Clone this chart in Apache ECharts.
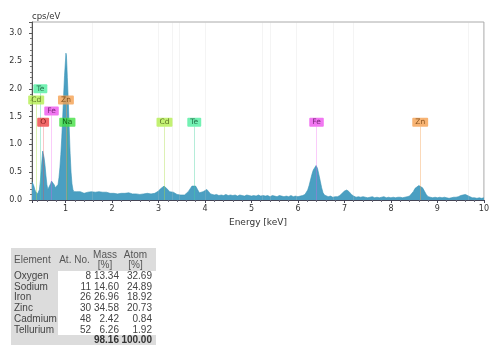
<!DOCTYPE html>
<html>
<head>
<meta charset="utf-8">
<script src="https://cdn.jsdelivr.net/npm/echarts@6/dist/echarts.min.js"></script>
<style>
  html, body { margin: 0; padding: 0; background: #fff; }
  #wrap { position: relative; width: 492px; height: 345px; overflow: hidden; }
  #chart { position: absolute; left: 0; top: 0; width: 492px; height: 345px; }
  #tbl {
    position: absolute; left: 11px; top: 248px;
    border-collapse: collapse;
    font-family: "Liberation Sans", Arial, sans-serif;
    font-size: 10px; color: #444;
  }
  #tbl td { padding: 0; height: 10.7px; line-height: 10.7px; white-space: nowrap; }
  #tbl .hd td { background: #dcdcdc; text-align: center; line-height: 9.5px; height: 23px; color: #555; }
  #tbl td.el { background: #dcdcdc; text-align: left; padding-left: 3px; width: 44px; }
  #tbl td.n { text-align: right; }
  #tbl tr.tot td { background: #dcdcdc; font-weight: bold; color: #333; }
</style>
</head>
<body>
<div id="wrap">
  <div id="chart"></div>
  <table id="tbl"></table>
</div>
<script>
// EDS spectrum, [energy keV, cps/eV]
let spectrum = [
    [0.28, 0.33], [0.30, 0.29], [0.32, 0.25], [0.34, 0.19], [0.36, 0.15], [0.38, 0.12],
    [0.40, 0.11], [0.42, 0.13], [0.44, 0.19], [0.46, 0.34], [0.48, 0.56], [0.50, 0.78],
    [0.51, 0.88], [0.52, 0.84], [0.54, 0.76], [0.56, 0.62], [0.58, 0.44], [0.60, 0.28],
    [0.62, 0.19], [0.64, 0.17], [0.66, 0.21], [0.68, 0.29], [0.70, 0.34], [0.72, 0.36],
    [0.74, 0.33], [0.76, 0.27], [0.78, 0.22], [0.80, 0.20], [0.82, 0.21], [0.84, 0.28],
    [0.86, 0.40], [0.88, 0.58], [0.90, 0.82], [0.92, 1.12], [0.94, 1.48], [0.96, 1.88],
    [0.98, 2.24], [1.00, 2.50], [1.01, 2.64], [1.02, 2.60], [1.03, 2.42], [1.04, 2.20],
    [1.06, 1.80], [1.08, 1.30], [1.10, 0.84], [1.12, 0.50], [1.14, 0.29], [1.16, 0.19],
    [1.18, 0.15], [1.20, 0.13],
    [1.24, 0.15], [1.28, 0.13], [1.32, 0.15], [1.36, 0.14], [1.40, 0.12], [1.44, 0.15],
    [1.48, 0.14], [1.52, 0.13], [1.56, 0.15], [1.60, 0.13], [1.64, 0.14], [1.68, 0.12],
    [1.72, 0.15], [1.76, 0.13], [1.80, 0.14], [1.84, 0.12], [1.88, 0.14], [1.92, 0.13],
    [1.96, 0.12], [2.00, 0.14], [2.04, 0.12], [2.08, 0.13], [2.12, 0.11], [2.16, 0.13],
    [2.20, 0.12], [2.24, 0.14], [2.28, 0.12], [2.32, 0.11], [2.36, 0.13], [2.40, 0.12],
    [2.44, 0.11], [2.48, 0.13], [2.52, 0.11], [2.56, 0.12], [2.60, 0.10], [2.64, 0.12],
    [2.68, 0.11], [2.72, 0.10], [2.76, 0.12], [2.80, 0.10], [2.84, 0.11], [2.88, 0.10],
    [2.92, 0.12], [2.96, 0.14],
    [3.00, 0.16], [3.04, 0.20], [3.08, 0.23], [3.12, 0.25], [3.16, 0.24], [3.20, 0.19],
    [3.24, 0.15], [3.28, 0.13], [3.32, 0.14], [3.36, 0.11], [3.40, 0.10], [3.44, 0.11],
    [3.48, 0.09], [3.52, 0.10], [3.56, 0.09], [3.60, 0.11], [3.64, 0.15], [3.68, 0.20],
    [3.72, 0.25], [3.76, 0.27], [3.80, 0.25], [3.84, 0.19], [3.88, 0.13], [3.92, 0.12],
    [3.96, 0.15], [4.00, 0.18], [4.04, 0.19], [4.08, 0.15], [4.12, 0.11], [4.16, 0.10],
    [4.20, 0.09], [4.25, 0.10], [4.30, 0.08], [4.35, 0.09], [4.40, 0.08], [4.45, 0.10],
    [4.50, 0.08], [4.55, 0.09], [4.60, 0.08], [4.65, 0.09], [4.70, 0.07], [4.75, 0.09],
    [4.80, 0.08], [4.85, 0.07], [4.90, 0.09], [4.95, 0.08], [5.00, 0.07], [5.05, 0.08],
    [5.10, 0.07], [5.15, 0.09], [5.20, 0.07], [5.25, 0.08], [5.30, 0.07], [5.35, 0.08],
    [5.40, 0.06], [5.45, 0.08], [5.50, 0.07], [5.55, 0.06], [5.60, 0.08], [5.65, 0.07],
    [5.70, 0.06], [5.75, 0.07], [5.80, 0.06], [5.85, 0.08], [5.90, 0.06], [5.95, 0.07],
    [6.00, 0.06], [6.05, 0.07], [6.10, 0.08],
    [6.15, 0.10], [6.18, 0.13], [6.21, 0.18], [6.24, 0.26], [6.27, 0.36], [6.30, 0.46],
    [6.33, 0.54], [6.36, 0.58], [6.39, 0.62], [6.42, 0.57], [6.45, 0.46], [6.48, 0.34],
    [6.51, 0.22], [6.54, 0.13], [6.57, 0.09], [6.60, 0.07],
    [6.65, 0.06], [6.70, 0.07], [6.75, 0.05], [6.80, 0.06], [6.85, 0.06], [6.90, 0.08],
    [6.95, 0.12], [7.00, 0.16], [7.05, 0.18], [7.10, 0.15], [7.15, 0.10], [7.20, 0.07],
    [7.25, 0.05], [7.30, 0.06], [7.35, 0.05], [7.40, 0.06], [7.45, 0.05], [7.50, 0.04],
    [7.55, 0.05], [7.60, 0.06], [7.65, 0.04], [7.70, 0.05], [7.75, 0.04], [7.80, 0.05],
    [7.85, 0.06], [7.90, 0.04], [7.95, 0.05], [8.00, 0.04], [8.05, 0.05], [8.10, 0.04],
    [8.15, 0.05], [8.20, 0.05], [8.25, 0.04], [8.30, 0.05], [8.35, 0.06], [8.40, 0.07],
    [8.44, 0.10], [8.48, 0.15], [8.52, 0.21], [8.56, 0.24], [8.60, 0.26], [8.64, 0.25],
    [8.68, 0.22], [8.72, 0.16], [8.76, 0.10], [8.80, 0.06],
    [8.85, 0.05], [8.90, 0.04], [8.95, 0.05], [9.00, 0.04], [9.05, 0.05], [9.10, 0.04],
    [9.15, 0.05], [9.20, 0.04], [9.25, 0.03], [9.30, 0.04], [9.35, 0.05], [9.40, 0.05],
    [9.45, 0.06], [9.50, 0.08], [9.55, 0.09], [9.60, 0.10], [9.65, 0.08], [9.70, 0.06],
    [9.75, 0.04], [9.80, 0.04], [9.85, 0.03], [9.90, 0.04], [9.95, 0.03], [10.00, 0.04]
]

// element line labels
let lineNames = ['O', 'Na', 'Fe', 'Zn', 'Cd', 'Te', 'Cd', 'Te', 'Fe', 'Zn']
let lineEnergy = [0.52, 1.04, 0.70, 1.01, 0.37, 0.46, 3.13, 3.77, 6.40, 8.63]
let labelLevel = [1.40, 1.40, 1.60, 1.80, 1.80, 2.00, 1.40, 1.40, 1.40, 1.40]
let faintLines = [1.58, 2.99, 3.30, 3.45, 4.01, 5.24, 5.40, 5.97, 6.76, 7.18, 9.66]

// quantification table
let elements = ['Oxygen', 'Sodium', 'Iron', 'Zinc', 'Cadmium', 'Tellurium']
let atNo = [8, 11, 26, 30, 48, 52]
let massPct = ['13.34', '14.60', '26.96', '34.58', '2.42', '6.26']
let atomPct = ['32.69', '24.89', '18.92', '20.73', '0.84', '1.92']
let totals = ['98.16', '100.00']

let colors = {
    O: { bg: '#ee4444', fg: '#5a0000', line: 'rgba(238,68,68,0.3)' },
    Na: { bg: '#44e044', fg: '#064a06', line: 'rgba(68,200,68,0.3)' },
    Fe: { bg: '#ee55ee', fg: '#5a105a', line: 'rgba(238,85,238,0.3)' },
    Zn: { bg: '#f5a050', fg: '#6a3a08', line: 'rgba(245,160,80,0.4)' },
    Cd: { bg: '#b4ee50', fg: '#405010', line: 'rgba(170,220,70,0.4)' },
    Te: { bg: '#50eea0', fg: '#105030', line: 'rgba(70,210,160,0.4)' }
}

let labelData = lineNames.map((n, i) => ({
    value: [lineEnergy[i], labelLevel[i]],
    label: { backgroundColor: colors[n].bg, color: colors[n].fg }
}))
let lineMarks = lineNames.map((n, i) => [
    { coord: [lineEnergy[i], 0], lineStyle: { color: colors[n].line } },
    { coord: [lineEnergy[i], labelLevel[i] - 0.08] }
])
let faintMarks = faintLines.map(x => ({ xAxis: x }))

let mychart = echarts.init(document.getElementById('chart'))
let options = {
    animation: false,
    textStyle: { fontFamily: 'DejaVu Sans' },
    grid: { left: 32, right: 2, top: 22, bottom: 145, show: true, borderColor: '#aaa', borderWidth: 1 },
    xAxis: {
        type: 'value',
        min: 0.28,
        max: 10,
        splitNumber: 10,
        name: 'Energy [keV]',
        nameLocation: 'middle',
        nameGap: 12,
        nameTextStyle: { fontSize: 9, color: '#333' },
        axisLine: { lineStyle: { color: '#445', width: 1 } },
        axisTick: { length: 3, lineStyle: { color: '#445' } },
        minorTick: { show: true, splitNumber: 5, length: 2, lineStyle: { color: '#667' } },
        axisLabel: { fontSize: 8, color: '#333', margin: 5, showMinLabel: false },
        splitLine: { show: false }
    },
    yAxis: {
        type: 'value',
        min: 0,
        max: 3.2,
        interval: 0.5,
        name: 'cps/eV',
        nameLocation: 'end',
        nameGap: 1,
        nameTextStyle: { fontSize: 8.5, color: '#333', align: 'left' },
        axisLine: { show: true, lineStyle: { color: '#555', width: 1 } },
        axisTick: { show: true, length: 3, lineStyle: { color: '#555' } },
        minorTick: { show: true, splitNumber: 5, length: 2, lineStyle: { color: '#777' } },
        axisLabel: {
            fontSize: 8, color: '#333', margin: 10, showMaxLabel: false,
            formatter: v => v.toFixed(1)
        },
        splitLine: { show: false }
    },
    series: [
        {
            name: 'faint',
            type: 'line',
            data: [],
            silent: true,
            markLine: {
                symbol: 'none',
                silent: true,
                label: { show: false },
                lineStyle: { color: 'rgba(200,200,200,0.2)', type: 'solid', width: 1 },
                data: faintMarks
            }
        },
        {
            name: 'spectrum',
            type: 'line',
            data: spectrum,
            showSymbol: false,
            symbol: 'none',
            lineStyle: { color: '#3a93b6', width: 0.6 },
            areaStyle: { color: '#4a9fc2', opacity: 1 },
            z: 2
        },
        {
            name: 'lines',
            type: 'line',
            data: [],
            silent: true,
            z: 3,
            markLine: {
                symbol: 'none',
                silent: true,
                label: { show: false },
                lineStyle: { type: 'solid', width: 1 },
                data: lineMarks
            }
        },
        {
            name: 'labels',
            type: 'scatter',
            data: labelData,
            symbolSize: 0,
            z: 5,
            label: {
                show: true,
                position: 'inside',
                formatter: p => lineNames[p.dataIndex],
                fontSize: 7.5,
                padding: [1, 3, 0, 3],
                borderRadius: 1,
                fontFamily: 'DejaVu Sans'
            }
        }
    ]
}
mychart.setOption(options)

// table
let tbl = document.getElementById('tbl')
let html = '<tr class="hd"><td class="el" style="text-align:left">Element</td>' +
    '<td style="width:33px">At. No.</td>' +
    '<td style="width:28px">Mass<br>[%]</td>' +
    '<td style="width:33px;padding-right:4px">Atom<br>[%]</td></tr>'
for (let i = 0; i < elements.length; i++) {
    html += '<tr><td class="el">' + elements[i] + '</td>' +
        '<td class="n">' + atNo[i] + '</td>' +
        '<td class="n">' + massPct[i] + '</td>' +
        '<td class="n" style="padding-right:4px">' + atomPct[i] + '</td></tr>'
}
html += '<tr class="tot"><td class="el"></td><td></td>' +
    '<td class="n">' + totals[0] + '</td>' +
    '<td class="n" style="padding-right:4px">' + totals[1] + '</td></tr>'
tbl.innerHTML = html

window.addEventListener('resize', () => {
    mychart?.resize()
})
</script>
</body>
</html>
